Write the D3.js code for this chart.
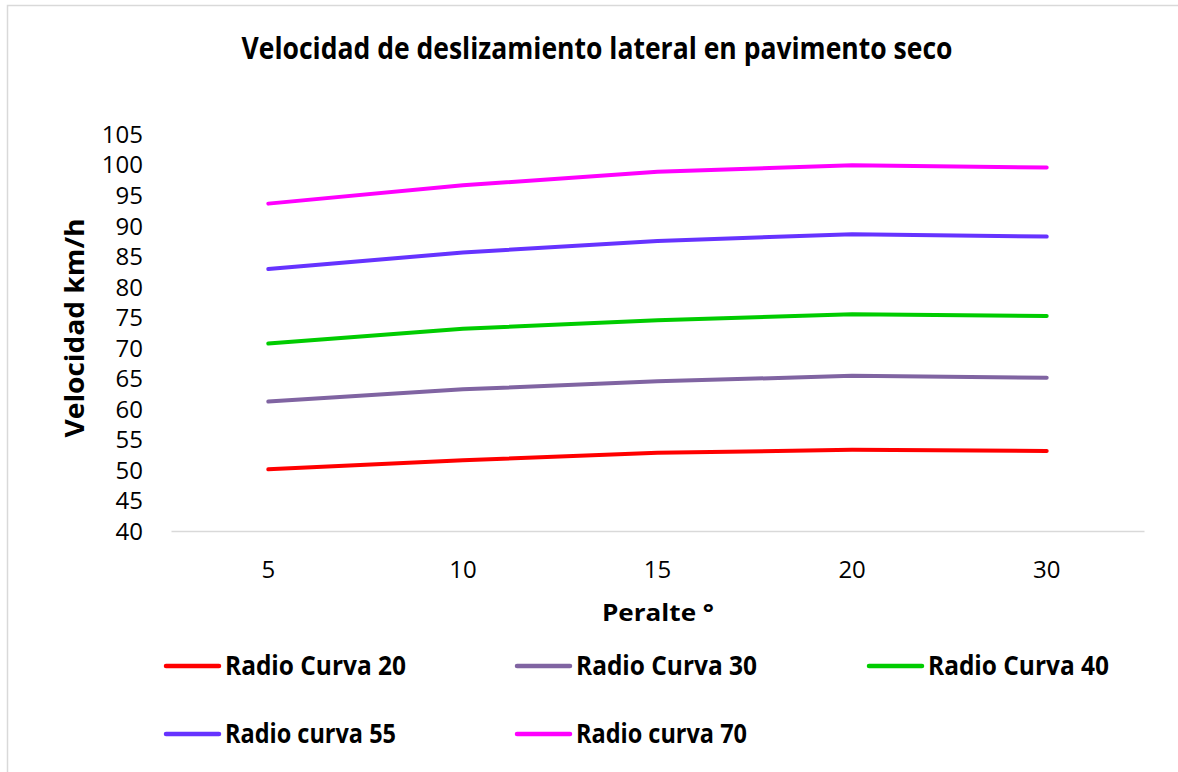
<!DOCTYPE html>
<html>
<head>
<meta charset="utf-8">
<script src="https://cdn.jsdelivr.net/npm/d3@7"></script>
<style>
  body { margin: 0; background: #fff; }
  text { font-family: "Open Sans", "Noto Sans", sans-serif; fill: #000; }
</style>
</head>
<body>
<div id="chart"></div>
<script>
// categories (peralte) and series values (km/h)
const peralte = ["5", "10", "15", "20", "30"];
const seriesNames = ["Radio Curva 20", "Radio Curva 30", "Radio Curva 40", "Radio curva 55", "Radio curva 70"];
const radio20 = [50.1, 51.6, 52.8, 53.3, 53.1];
const radio30 = [61.2, 63.2, 64.5, 65.4, 65.1];
const radio40 = [70.7, 73.1, 74.5, 75.5, 75.2];
const radio55 = [82.9, 85.6, 87.5, 88.6, 88.2];
const radio70 = [93.6, 96.6, 98.8, 99.9, 99.5];
const seriesColors = ["#ff0000", "#8064a2", "#00cc00", "#6633ff", "#ff00ff"];
const yTicks = [40, 45, 50, 55, 60, 65, 70, 75, 80, 85, 90, 95, 100, 105];

const series = [radio20, radio30, radio40, radio55, radio70].map((vals, i) => ({
    name: seriesNames[i],
    color: seriesColors[i],
    values: vals.map((v, j) => ({ cat: peralte[j], v: v }))
}));

const W = 1178, H = 772;
const margin = { top: 134, right: 34, bottom: 241, left: 171 };
const width = W - margin.left - margin.right;
const height = H - margin.top - margin.bottom;

const svg = d3.select("#chart")
    .append("svg")
    .attr("width", W)
    .attr("height", H);

// outer chart frame
svg.append("rect")
    .attr("x", 7.5)
    .attr("y", 5.5)
    .attr("width", W + 20)
    .attr("height", H + 20)
    .attr("fill", "none")
    .attr("stroke", "#d9d9d9")
    .attr("stroke-width", 1.5);

// title
svg.append("text")
    .attr("x", 597)
    .attr("y", 59)
    .attr("text-anchor", "middle")
    .attr("textLength", 711)
    .attr("lengthAdjust", "spacingAndGlyphs")
    .style("font-size", "30px")
    .style("font-weight", "bold")
    .text("Velocidad de deslizamiento lateral en pavimento seco");

const g = svg.append("g")
    .attr("transform", `translate(${margin.left},${margin.top})`);

const x = d3.scaleBand()
    .domain(peralte)
    .range([0, width]);

const y = d3.scaleLinear()
    .domain([40, 105])
    .range([height, 0]);

// x axis
const xAxis = g.append("g")
    .attr("transform", `translate(0,${height})`)
    .call(d3.axisBottom(x).tickSize(0).tickPadding(47));
xAxis.select(".domain").attr("stroke", "#d9d9d9").attr("stroke-width", 1.5);
xAxis.selectAll("text").style("font-size", "24px").attr("dy", "0");

// y axis
const yAxis = g.append("g")
    .call(d3.axisLeft(y).tickValues(yTicks).tickSize(0).tickPadding(28));
yAxis.select(".domain").remove();
yAxis.selectAll("text").style("font-size", "24px").attr("dy", "0.35em");

// axis titles
svg.append("text")
    .attr("transform", "translate(84,328) rotate(-90)")
    .attr("text-anchor", "middle")
    .attr("textLength", 219)
    .attr("lengthAdjust", "spacingAndGlyphs")
    .style("font-size", "27px")
    .style("font-weight", "bold")
    .text("Velocidad km/h");

svg.append("text")
    .attr("x", 658)
    .attr("y", 621)
    .attr("text-anchor", "middle")
    .attr("textLength", 112)
    .attr("lengthAdjust", "spacingAndGlyphs")
    .style("font-size", "24px")
    .style("font-weight", "bold")
    .text("Peralte °");

// lines
const line = d3.line()
    .x(d => x(d.cat) + x.bandwidth() / 2)
    .y(d => y(d.v));

g.selectAll(".serie")
    .data(series)
    .join("path")
    .attr("class", "serie")
    .attr("d", d => line(d.values))
    .attr("fill", "none")
    .attr("stroke", d => d.color)
    .attr("stroke-width", 4)
    .attr("stroke-linecap", "round")
    .attr("stroke-linejoin", "round");

// legend
const legendX = [166, 517, 869];
const legendY = [666, 734];
const legendW = [181, 181, 181, 171, 171];

const legend = svg.selectAll(".legend")
    .data(series)
    .join("g")
    .attr("class", "legend")
    .attr("transform", (d, i) => `translate(${legendX[i % 3]},${legendY[Math.floor(i / 3)]})`);

legend.append("line")
    .attr("x1", 0)
    .attr("x2", 53)
    .attr("stroke", d => d.color)
    .attr("stroke-width", 4.5)
    .attr("stroke-linecap", "round");

legend.append("text")
    .attr("x", 59)
    .attr("y", 9)
    .attr("textLength", (d, i) => legendW[i])
    .attr("lengthAdjust", "spacingAndGlyphs")
    .style("font-size", "26px")
    .style("font-weight", "bold")
    .text(d => d.name);
</script>
</body>
</html>
